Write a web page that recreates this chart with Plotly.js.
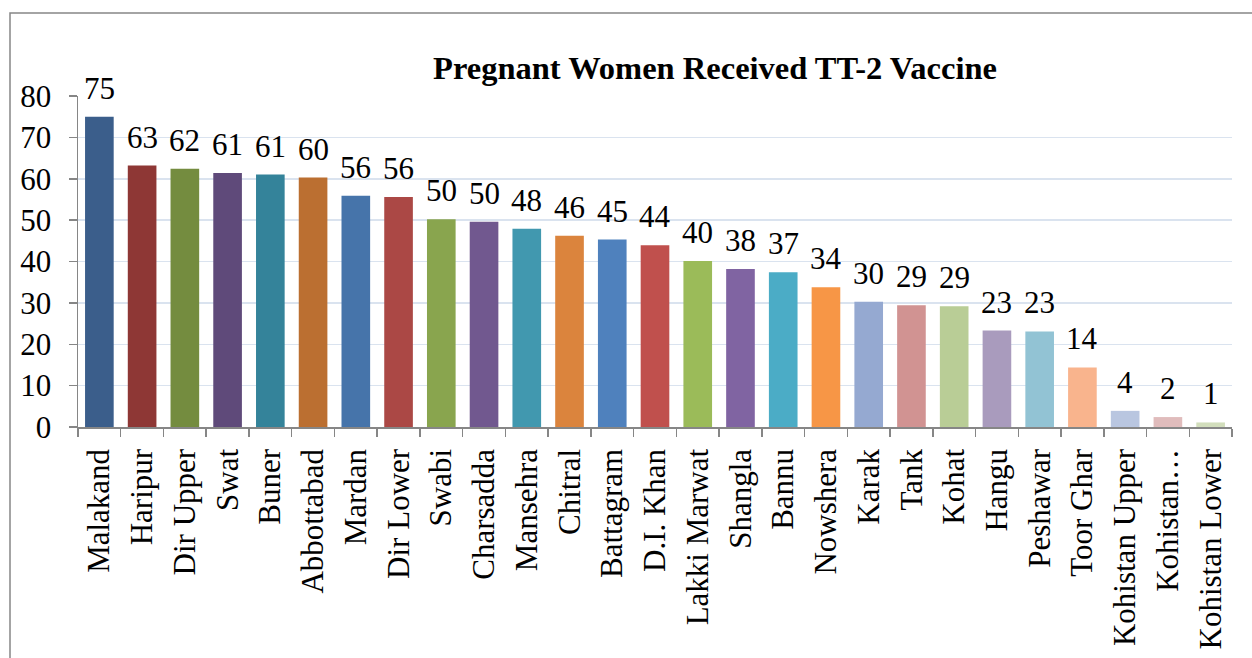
<!DOCTYPE html>
<html>
<head>
<meta charset="utf-8">
<script src="https://cdn.plot.ly/plotly-3.0.1.min.js"></script>
<style>
  html, body { margin: 0; padding: 0; background: #ffffff; overflow: hidden; }
  #chart { width: 1252px; height: 658px; }
</style>
</head>
<body>
<div id="chart"></div>
<script>
const districts = ["Malakand", "Haripur", "Dir Upper", "Swat", "Buner", "Abbottabad", "Mardan", "Dir Lower",
  "Swabi", "Charsadda", "Mansehra", "Chitral", "Battagram", "D.I. Khan", "Lakki Marwat", "Shangla", "Bannu",
  "Nowshera", "Karak", "Tank", "Kohat", "Hangu", "Peshawar", "Toor Ghar", "Kohistan Upper", "Kohistan…", "Kohistan Lower"];
const tt2Values = [75.0, 63.2, 62.4, 61.4, 61.0, 60.3, 55.9, 55.6,
  50.2, 49.6, 47.9, 46.2, 45.3, 43.9, 40.1, 38.2, 37.4,
  33.8, 30.3, 29.4, 29.2, 23.3, 23.1, 14.4, 3.9, 2.4, 1.1];
const barColors = ["#3B5E8B", "#8E3735", "#748C3F", "#5F4A7A", "#34839A", "#BB6F31", "#4674AA", "#AB4845",
  "#89A54E", "#71588F", "#4198AF", "#DB843D", "#4F81BD", "#C0504D", "#9BBB59", "#8064A2", "#4BACC6",
  "#F79646", "#95A9D1", "#D19392", "#B9CD96", "#A99BBD", "#92C3D4", "#F9B48D", "#B9C6E0", "#E0BCBC", "#D2DEBC"];
const yTicks = [0, 10, 20, 30, 40, 50, 60, 70, 80];
const chartTitle = "Pregnant Women Received TT-2 Vaccine";

const FONT = "'Liberation Serif', 'Times New Roman', serif";
const AXIS_GRAY = "#868686";

const trace = {
  type: "bar",
  x: districts,
  y: tt2Values,
  marker: { color: barColors, line: { width: 0 } },
  hoverinfo: "x+y",
  cliponaxis: false
};

const annotations = districts.map((d, i) => ({
  x: d,
  y: tt2Values[i],
  xref: "x",
  yref: "y",
  text: String(Math.round(tt2Values[i])),
  showarrow: false,
  yanchor: "bottom",
  xanchor: "center",
  yshift: 9,
  font: { family: FONT, size: 31, color: "#000000" }
}));

const bx0 = (10 - 78) / 1154;
const by1 = (427 - 13) / 331;

const layout = {
  width: 1252,
  height: 658,
  margin: { l: 78, r: 20, t: 96, b: 231 },
  paper_bgcolor: "#ffffff",
  plot_bgcolor: "#ffffff",
  showlegend: false,
  bargap: 0.33,
  font: { family: FONT, size: 31, color: "#000000" },
  title: {
    text: "<b>" + chartTitle + "</b>",
    font: { family: FONT, size: 32.5, color: "#000000" },
    xref: "paper",
    x: 0.552,
    xanchor: "center",
    yref: "container",
    y: 1 - 68 / 658,
    yanchor: "middle"
  },
  xaxis: {
    type: "category",
    tickangle: -90,
    tickson: "boundaries",
    ticks: "outside",
    ticklen: 8,
    tickwidth: 1.5,
    tickcolor: AXIS_GRAY,
    showline: true,
    linecolor: AXIS_GRAY,
    linewidth: 1.5,
    showgrid: false,
    ticklabelstandoff: 8,
    tickfont: { family: FONT, size: 31, color: "#000000" },
    fixedrange: true
  },
  yaxis: {
    range: [0, 80],
    tickvals: yTicks,
    ticktext: yTicks.map(String),
    ticks: "outside",
    ticklen: 8,
    tickwidth: 1.5,
    tickcolor: AXIS_GRAY,
    showline: true,
    linecolor: AXIS_GRAY,
    linewidth: 1.5,
    showgrid: true,
    gridcolor: "#DAE3EF",
    gridwidth: 1.5,
    zeroline: false,
    ticklabelstandoff: 11,
    tickfont: { family: FONT, size: 31, color: "#000000" },
    fixedrange: true
  },
  annotations: annotations,
  shapes: [{
    type: "path",
    xref: "paper",
    yref: "paper",
    path: "M " + bx0 + "," + (-1.2) + " L " + bx0 + "," + by1 + " L 1.3," + by1,
    line: { color: AXIS_GRAY, width: 1.5 },
    layer: "below"
  }]
};

Plotly.newPlot("chart", [trace], layout, { displayModeBar: false, staticPlot: true });
</script>
</body>
</html>
